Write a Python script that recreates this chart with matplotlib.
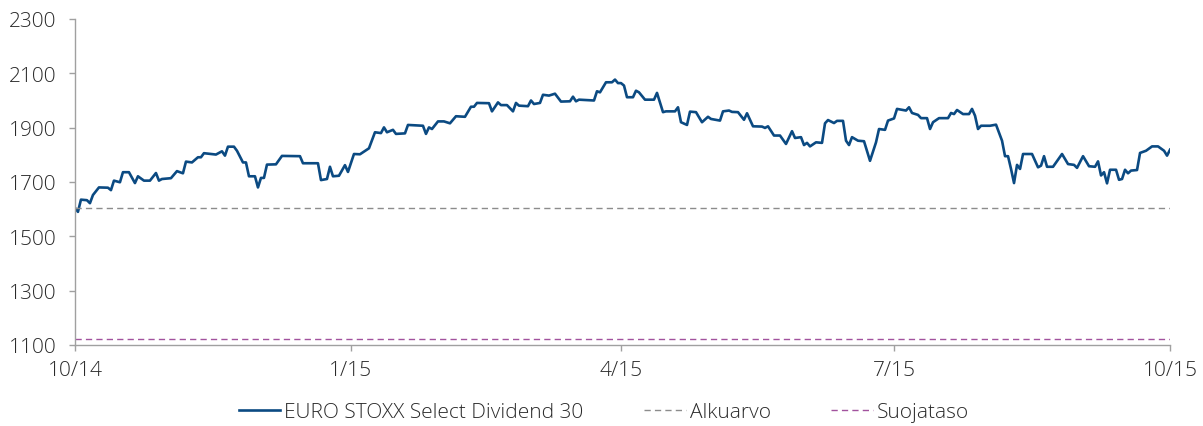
import numpy as np
import pandas as pd
import matplotlib.pyplot as plt

# Index level (days since 2014-10-01, value)
start = pd.Timestamp("2014-10-01")
days = [0, 1, 2, 4, 5, 6, 8, 11, 12, 13, 15, 16, 18, 20, 21, 23, 25, 27, 28, 29,
        32, 34, 36, 37, 39, 41, 42, 43, 47, 49, 50, 51, 53, 54, 56, 57, 58, 60, 61, 62,
        63, 64, 67, 69, 75, 76, 81, 82, 84, 85, 86, 88, 90, 91, 93, 95, 98, 100, 102, 103,
        104, 106, 107, 110, 111, 116, 117, 118, 119, 121, 123, 125, 127, 130, 132, 133, 134, 138, 139, 141,
        142, 144, 146, 147, 148, 151, 152, 153, 155, 156, 158, 160, 162, 165, 166, 167, 168, 173, 174, 175,
        177, 179, 180, 181, 182, 183, 184, 186, 187, 188, 190, 193, 194, 196, 197, 200, 201, 202, 204, 205,
        207, 209, 211, 212, 215, 216, 218, 219, 221, 223, 224, 226, 229, 230, 231, 233, 235, 237, 239, 240,
        242, 243, 244, 245, 247, 249, 250, 251, 253, 254, 256, 257, 258, 259, 261, 263, 265, 267, 268, 270,
        271, 273, 274, 277, 278, 279, 281, 282, 284, 285, 286, 288, 291, 292, 293, 294, 296, 298, 299, 300,
        301, 302, 305, 307, 309, 310, 311, 312, 313, 314, 315, 316, 319, 321, 322, 323, 324, 326, 329, 331,
        333, 334, 336, 338, 340, 341, 342, 343, 344, 345, 347, 348, 349, 350, 351, 352, 354, 355, 357, 359,
        361, 363, 364, 365]
index_values = [1605, 1590, 1635, 1633, 1622, 1652, 1680, 1679, 1670, 1705, 1699, 1736, 1736, 1696, 1721, 1705, 1705, 1733, 1705, 1711,
                1714, 1740, 1732, 1775, 1772, 1791, 1791, 1806, 1801, 1813, 1797, 1830, 1830, 1815, 1772, 1772, 1721, 1721, 1680, 1715,
                1715, 1764, 1765, 1796, 1795, 1769, 1769, 1707, 1711, 1756, 1721, 1723, 1762, 1737, 1803, 1802, 1824, 1883, 1880, 1901,
                1883, 1892, 1877, 1879, 1910, 1907, 1877, 1901, 1895, 1923, 1923, 1916, 1942, 1940, 1977, 1977, 1991, 1990, 1960, 1993,
                1983, 1983, 1960, 1991, 1981, 1979, 2000, 1987, 1991, 2021, 2018, 2025, 1996, 1997, 2014, 1997, 2003, 2000, 2034, 2030,
                2067, 2067, 2077, 2064, 2064, 2055, 2012, 2012, 2036, 2030, 2003, 2003, 2028, 1957, 1960, 1960, 1975, 1920, 1910, 1959,
                1957, 1920, 1940, 1932, 1926, 1960, 1963, 1958, 1957, 1929, 1953, 1905, 1904, 1899, 1905, 1871, 1871, 1840, 1887, 1862,
                1865, 1836, 1844, 1831, 1846, 1844, 1916, 1928, 1917, 1925, 1925, 1852, 1836, 1865, 1852, 1850, 1778, 1846, 1895, 1892,
                1926, 1934, 1969, 1963, 1975, 1954, 1947, 1935, 1935, 1895, 1920, 1935, 1935, 1954, 1950, 1965, 1950, 1950, 1969, 1944,
                1895, 1907, 1907, 1911, 1852, 1795, 1795, 1748, 1696, 1763, 1748, 1803, 1803, 1754, 1760, 1795, 1756, 1756, 1803, 1766,
                1763, 1752, 1795, 1758, 1756, 1776, 1724, 1736, 1695, 1745, 1745, 1708, 1711, 1745, 1732, 1742, 1744, 1807, 1815, 1831,
                1831, 1815, 1797, 1819]
alkuarvo = 1604
suojataso = 1122
tick_dates = ["2014-10-01", "2015-01-01", "2015-04-01", "2015-07-01", "2015-10-01"]
tick_labels = ["10/14", "1/15", "4/15", "7/15", "10/15"]

dates = start + pd.to_timedelta(days, unit="D")
end = pd.Timestamp(tick_dates[-1])

plt.rcParams['font.family'] = ['Open Sans', 'DejaVu Sans']
plt.rcParams['font.weight'] = 'light'

fig = plt.figure(figsize=(12.03, 4.27), dpi=100)
ax = fig.add_axes([0.0623, 0.1897, 0.9103, 0.7635])

ax.plot(dates, index_values, color="#0b4a82", lw=1.9, solid_joinstyle="round",
        label="EURO STOXX Select Dividend 30")
ax.plot([start, end], [alkuarvo, alkuarvo], color="#8c8c8c", lw=1.0, dashes=(4.5, 3),
        label="Alkuarvo")
ax.plot([start, end], [suojataso, suojataso], color="#a2529e", lw=1.0, dashes=(4.5, 3),
        label="Suojataso")

ax.set_xlim(start, end)
ax.set_ylim(1100, 2300)
ax.set_yticks(np.arange(1100, 2301, 200))
ax.set_xticks(pd.to_datetime(tick_dates))
ax.set_xticklabels(tick_labels)

for s in ["top", "right"]:
    ax.spines[s].set_visible(False)
for s in ["left", "bottom"]:
    ax.spines[s].set_color("#a0a0a0")
    ax.spines[s].set_linewidth(1.0)
ax.tick_params(axis="y", length=4.5, width=1.0, color="#a0a0a0", pad=9,
               labelsize=15, labelcolor="#2a2a2a")
ax.tick_params(axis="x", length=4, width=1.0, color="#a0a0a0", pad=7,
               labelsize=15, labelcolor="#2a2a2a")

leg = fig.legend(loc="lower center", bbox_to_anchor=(0.502, -0.035), ncol=3, frameon=False,
                 fontsize=15, handlelength=2.0, handletextpad=0.2, columnspacing=2.9)
for t in leg.get_texts():
    t.set_color("#2a2a2a")

plt.savefig("out.png", dpi=100)
